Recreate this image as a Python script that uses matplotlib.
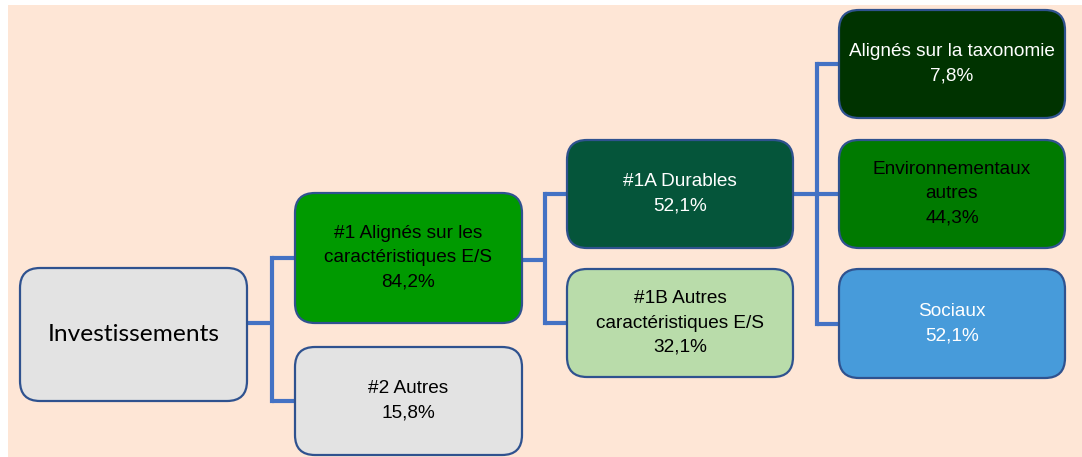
import matplotlib.pyplot as plt
from matplotlib.patches import FancyBboxPatch, Rectangle

# libellés et valeurs des noeuds
labels = ['Investissements',
          '#1 Alignés sur les\ncaractéristiques E/S', '#2 Autres',
          '#1A Durables', '#1B Autres\ncaractéristiques E/S',
          'Alignés sur la taxonomie', 'Environnementaux\nautres', 'Sociaux']
values = [None, '84,2%', '15,8%', '52,1%', '32,1%', '7,8%', '44,3%', '52,1%']
fills = ['#e3e3e3', '#009a00', '#e3e3e3', '#05553a', '#b9dcaa',
         '#003300', '#007a00', '#479bda']
text_colors = ['black', 'black', 'black', 'white', 'black',
               'white', 'black', 'white']
# liens parent -> enfants
links = {0: [1, 2], 1: [3, 4], 3: [5, 6, 7]}

# mise en page (pixels) : x gauche, y haut, largeur, hauteur
boxes = [(20, 268, 227, 133),
         (295, 193, 227, 130), (295, 347, 227, 108),
         (567, 140, 226, 108), (567, 269, 226, 108),
         (839, 10, 226, 108), (839, 140, 226, 108), (839, 269, 226, 109)]
# position du trait de sortie et de la barre verticale
out_y = {0: 323, 1: 260, 3: 194}
bar_x = {0: 272, 1: 545, 3: 817}

W, H = 1082, 457
fig = plt.figure(figsize=(W / 100, H / 100), dpi=100)
ax = fig.add_axes([0, 0, 1, 1])
ax.set_xlim(0, W)
ax.set_ylim(H, 0)
ax.axis('off')

ax.add_patch(Rectangle((8, 5), W - 8, H - 5, facecolor='#fee6d6', edgecolor='none', zorder=0))

line_c = '#4472c4'
lw = 3
for p, kids in links.items():
    x0, y0, w0, h0 = boxes[p]
    bx = bar_x[p]
    ax.plot([x0 + w0, bx], [out_y[p], out_y[p]], color=line_c, lw=lw, zorder=1, solid_capstyle='butt')
    ys = [boxes[k][1] + boxes[k][3] / 2 for k in kids]
    ax.plot([bx, bx], [min(ys), max(ys)], color=line_c, lw=lw, zorder=1, solid_capstyle='projecting')
    for k, yk in zip(kids, ys):
        ax.plot([bx, boxes[k][0]], [yk, yk], color=line_c, lw=lw, zorder=1, solid_capstyle='butt')

for i, (x, y, w, h) in enumerate(boxes):
    ax.add_patch(FancyBboxPatch((x, y), w, h, boxstyle='round,pad=0,rounding_size=20',
                                facecolor=fills[i], edgecolor='#2f528f', lw=1.6, zorder=2))
    if values[i] is None:
        ax.text(x + w / 2, y + h / 2, labels[i], ha='center', va='center',
                fontsize=17.6, family='Lato', color=text_colors[i], zorder=3)
    else:
        ax.text(x + w / 2, y + h / 2, labels[i] + '\n' + values[i], ha='center', va='center',
                fontsize=13.7, family='Liberation Sans', color=text_colors[i],
                linespacing=1.55, zorder=3)

fig.savefig('out.png', dpi=100, facecolor='white')
